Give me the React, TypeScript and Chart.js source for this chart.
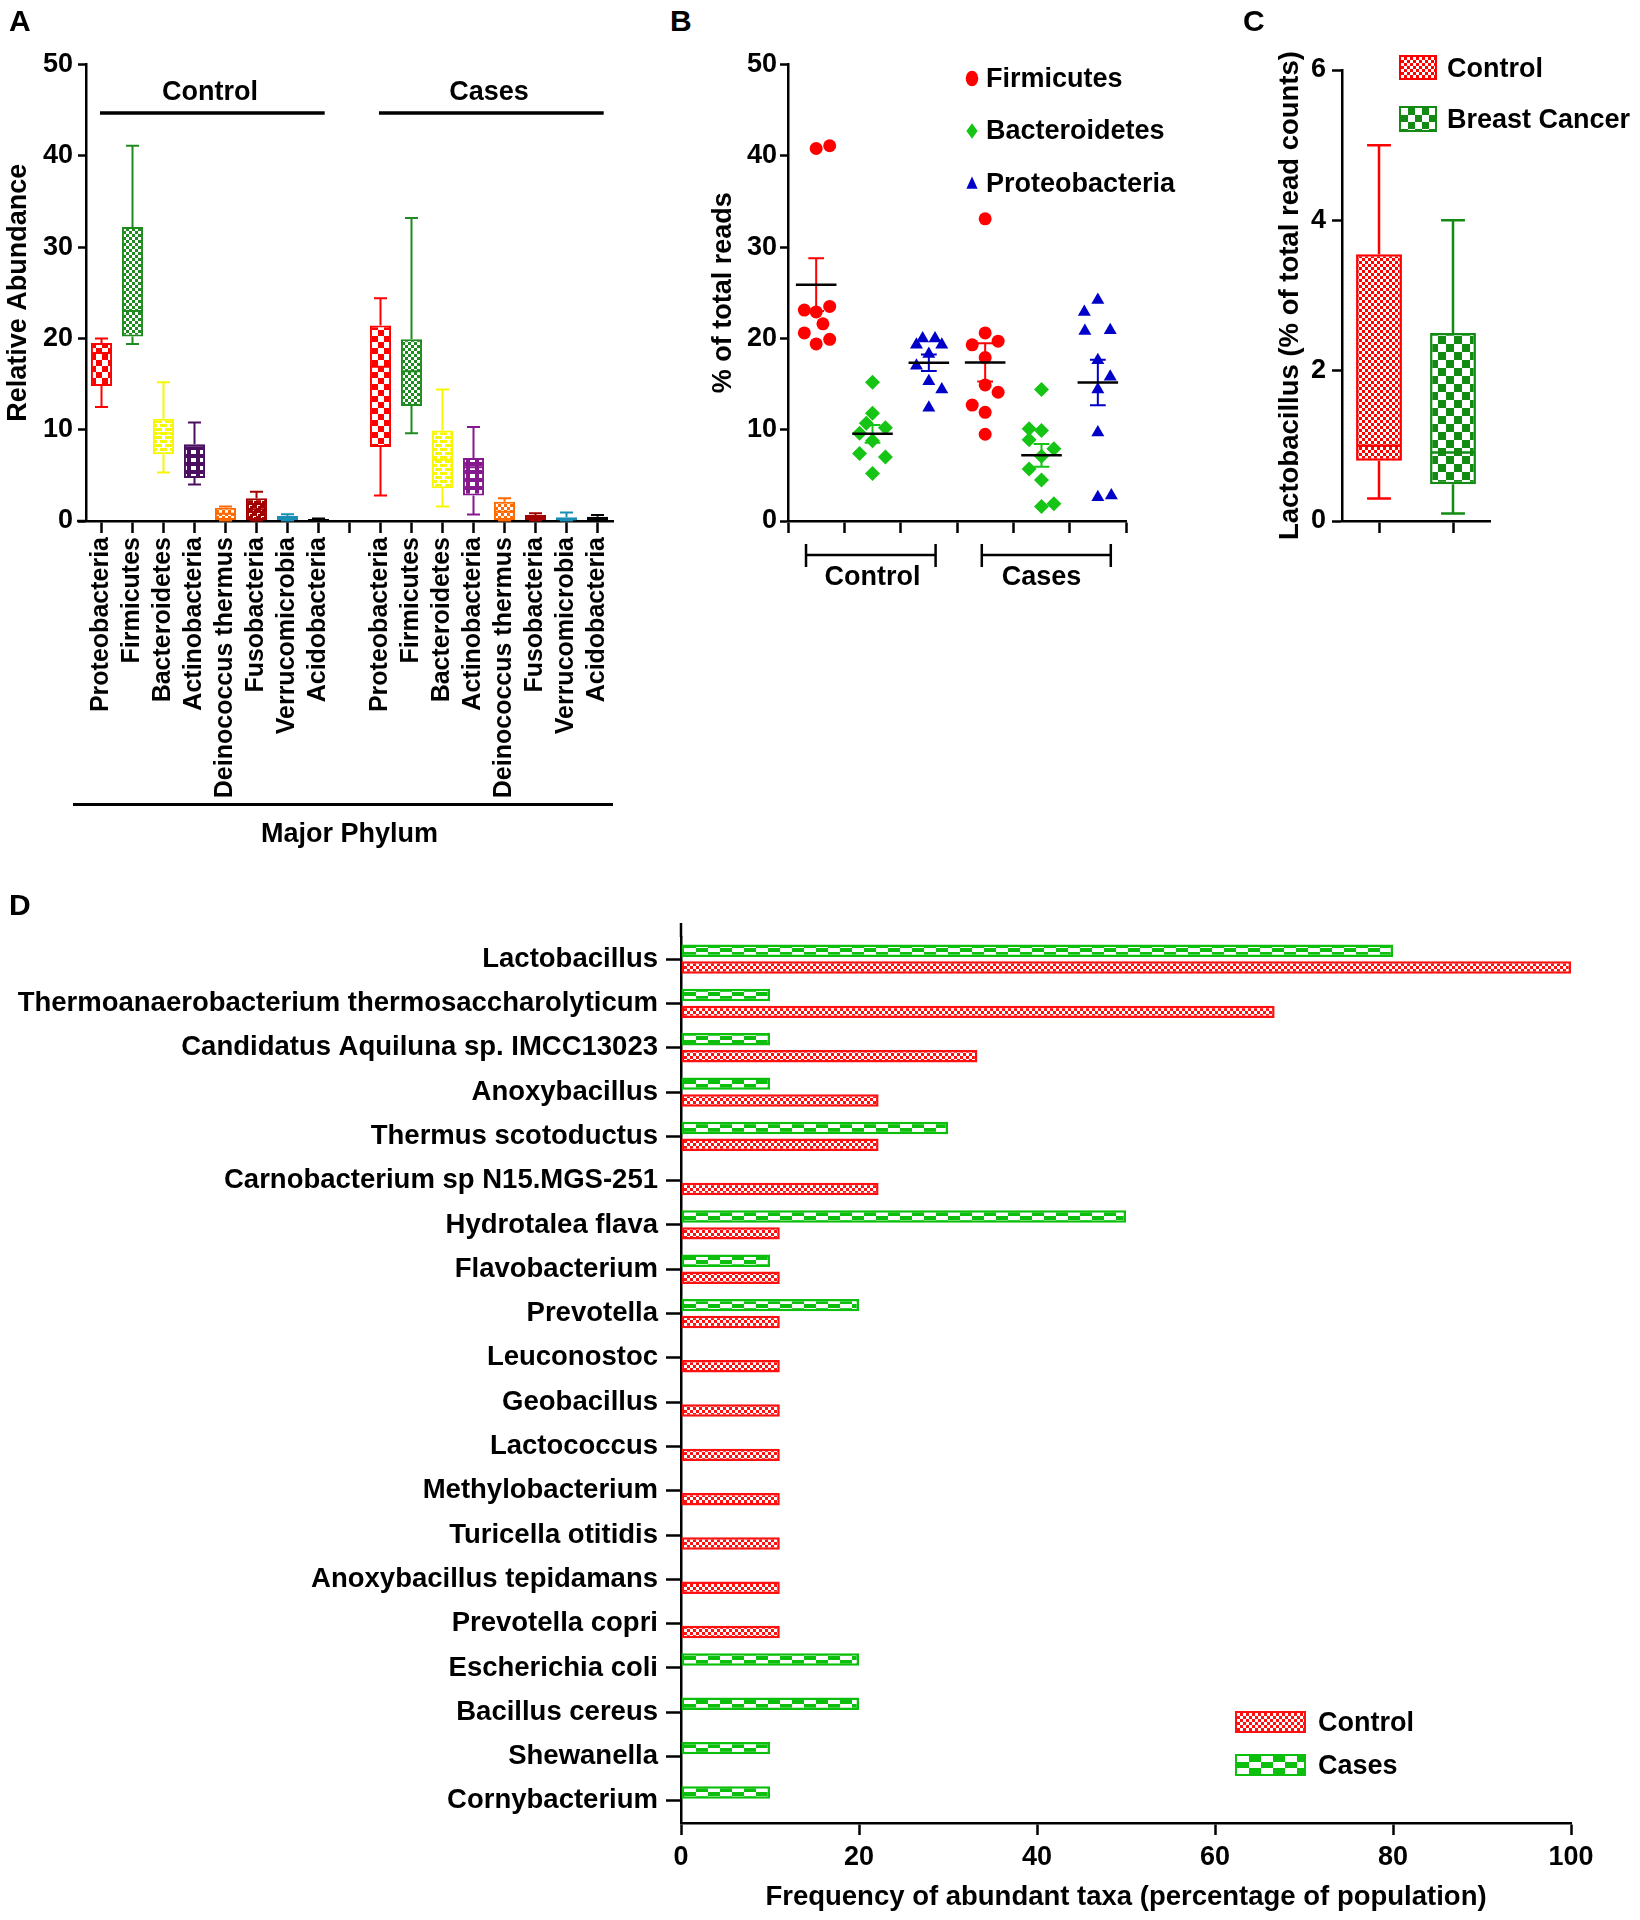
import React, { useEffect, useRef } from 'react';
import { Chart, registerables } from 'chart.js';

Chart.register(...registerables);

const FONT_FAMILY = "'Liberation Sans', Arial, Helvetica, sans-serif";
Chart.defaults.font.family = FONT_FAMILY;
Chart.defaults.font.weight = 'bold';
Chart.defaults.color = '#000';

// ===================== Panel A : major phyla box plots =====================
const phylumNames = ['Proteobacteria', 'Firmicutes', 'Bacteroidetes', 'Actinobacteria', 'Deinococcus thermus', 'Fusobacteria', 'Verrucomicrobia', 'Acidobacteria'];
const controlMin = [12.5, 19.4, 5.3, 4.0, 0.05, 0.05, 0.05, 0.0];
const controlQ1 = [14.8, 20.2, 7.3, 4.7, 0.1, 0.1, 0.1, 0.02];
const controlMedian = [18.4, 23.0, 9.6, 6.3, 0.8, 1.3, 0.3, 0.12];
const controlQ3 = [19.5, 32.2, 11.2, 8.4, 1.45, 2.5, 0.55, 0.22];
const controlMax = [20.0, 41.1, 15.2, 10.8, 1.6, 3.2, 0.75, 0.27];
const casesMin = [2.8, 9.6, 1.6, 0.7, 0.05, 0.05, 0.05, 0.05];
const casesQ1 = [8.1, 12.6, 3.6, 2.8, 0.1, 0.1, 0.1, 0.1];
const casesMedian = [16.9, 16.4, 6.7, 5.9, 1.0, 0.4, 0.2, 0.3];
const casesQ3 = [21.4, 19.9, 9.9, 6.9, 2.1, 0.66, 0.4, 0.47];
const casesMax = [24.4, 33.2, 14.4, 10.3, 2.5, 0.85, 0.93, 0.66];
const controlPhylumColors = ['#ff0000', '#1f8a1f', '#f7f700', '#4b0f60', '#ff6a00', '#a30000', '#1b8fb3', '#000000'];
const casesPhylumColors = ['#ff0000', '#1f8a1f', '#f7f700', '#86198f', '#ff6a00', '#a30000', '#1b8fb3', '#000000'];
const phylumPatternKinds = ['checkerLarge', 'checkerSmall', 'brick', 'windows', 'checkerSmall', 'squiggle', 'dash', 'solid'];
const aGroupNames = ['Control', 'Cases'];
const aYMax = 50;
const aYStep = 10;

// ===================== Panel B : % of total reads (dot plots) =====================
const bSeriesNames = ['Firmicutes', 'Bacteroidetes', 'Proteobacteria'];
const bGroupNames = ['Control', 'Cases'];
const firmicutesControl = [40.8, 41.1, 23.1, 22.9, 23.5, 21.6, 20.6, 19.4, 19.9];
const firmicutesControlJitter = [0, 0.24, -0.21, 0, 0.24, 0.12, -0.21, 0, 0.24];
const bacteroidetesControl = [15.2, 11.8, 10.7, 9.6, 10.2, 8.8, 7.4, 7.0, 5.2];
const bacteroidetesControlJitter = [0, 0, -0.11, -0.23, 0.23, 0, -0.23, 0.23, 0];
const proteobacteriaControl = [19.3, 20.0, 20.0, 19.3, 18.3, 17.0, 15.3, 14.4, 12.4];
const proteobacteriaControlJitter = [-0.22, -0.11, 0.11, 0.23, 0, -0.22, 0, 0.23, 0];
const firmicutesCases = [33.1, 20.6, 19.3, 19.7, 17.9, 14.9, 14.1, 12.7, 11.9, 9.5];
const firmicutesCasesJitter = [0, 0, -0.23, 0.23, 0, 0, 0.23, -0.23, 0, 0];
const bacteroidetesCases = [14.4, 10.1, 9.9, 8.9, 7.9, 7.1, 5.7, 4.5, 1.6, 1.9];
const bacteroidetesCasesJitter = [0, -0.22, 0, -0.22, 0.22, 0, -0.22, 0, 0, 0.22];
const proteobacteriaCases = [22.9, 24.2, 20.8, 20.9, 17.6, 15.8, 14.4, 9.7, 2.6, 2.8];
const proteobacteriaCasesJitter = [-0.24, 0, -0.23, 0.22, 0, 0.22, 0, 0, 0, 0.24];
const bSeriesColors = ['#ff0000', '#16c416', '#0000c8'];
const bSeriesStyles = ['circle', 'rectRot', 'triangle'];
const bYMax = 50;
const bYStep = 10;

// ===================== Panel C : Lactobacillus =====================
const cGroupNames = ['Control', 'Breast Cancer'];
const lactoMin = [0.3, 0.1];
const lactoQ1 = [0.8, 0.49];
const lactoMedian = [1.0, 0.91];
const lactoQ3 = [3.55, 2.5];
const lactoMax = [5.0, 4.0];
const cColors = ['#ff0000', '#138a13'];
const cYMax = 6;
const cYStep = 2;

// ===================== Panel D : frequency of abundant taxa =====================
const taxaNames = [
  'Lactobacillus', 'Thermoanaerobacterium thermosaccharolyticum', 'Candidatus Aquiluna sp. IMCC13023', 'Anoxybacillus',
  'Thermus scotoductus', 'Carnobacterium sp N15.MGS-251', 'Hydrotalea flava', 'Flavobacterium', 'Prevotella',
  'Leuconostoc', 'Geobacillus', 'Lactococcus', 'Methylobacterium', 'Turicella otitidis', 'Anoxybacillus tepidamans',
  'Prevotella copri', 'Escherichia coli', 'Bacillus cereus', 'Shewanella', 'Cornybacterium',
];
const taxaControl = [100, 66.7, 33.3, 22.2, 22.2, 22.2, 11.1, 11.1, 11.1, 11.1, 11.1, 11.1, 11.1, 11.1, 11.1, 11.1, null, null, null, null];
const taxaCases = [80, 10, 10, 10, 30, null, 50, 10, 20, null, null, null, null, null, null, null, 20, 20, 10, 10];
const dXTicks = [0, 20, 40, 60, 80, 100];
const dControlColor = '#ff1010';
const dCasesColor = '#0cbf0c';

// ===================== helpers =====================
function makePattern(kind: string, color: string): CanvasPattern | string {
  if (kind === 'solid') return color;
  const c = document.createElement('canvas');
  let w = 8, h = 8;
  const checker: Record<string, [number, number]> = {
    checkerLarge: [6, 6], checkerSmall: [3, 3], checkerTiny: [3, 3], checkerBig: [8, 8], checkerWide: [12, 4],
  };
  if (checker[kind]) { w = checker[kind][0] * 2; h = checker[kind][1] * 2; }
  else if (kind === 'brick') { w = 10; h = 8; }
  else if (kind === 'windows') { w = 9; h = 8; }
  else if (kind === 'squiggle') { w = 8; h = 8; }
  else if (kind === 'dash') { w = 8; h = 5; }
  c.width = w; c.height = h;
  const g = c.getContext('2d')!;
  if (checker[kind]) {
    const [cw, ch] = checker[kind];
    g.fillStyle = '#ffffff'; g.fillRect(0, 0, w, h);
    g.fillStyle = color; g.fillRect(0, 0, cw, ch); g.fillRect(cw, ch, cw, ch);
  } else if (kind === 'brick') {
    g.fillStyle = '#ffffff'; g.fillRect(0, 0, w, h);
    g.fillStyle = color;
    g.fillRect(0, 0, 7, 3); g.fillRect(5, 4, 5, 3); g.fillRect(0, 4, 2, 3);
  } else if (kind === 'windows') {
    g.fillStyle = color; g.fillRect(0, 0, w, h);
    g.fillStyle = '#ffffff'; g.fillRect(2, 2, 5, 4);
  } else if (kind === 'squiggle') {
    g.fillStyle = color; g.fillRect(0, 0, w, h);
    g.fillStyle = '#ffffff';
    g.fillRect(1, 1, 1, 3); g.fillRect(2, 1, 2, 1); g.fillRect(5, 4, 1, 3); g.fillRect(6, 4, 2, 1);
  } else if (kind === 'dash') {
    g.fillStyle = color; g.fillRect(0, 0, w, h);
    g.fillStyle = '#ffffff'; g.fillRect(2, 2, 4, 1);
  }
  return g.createPattern(c, 'repeat')!;
}

function meanSem(vals: number[]) {
  const n = vals.length;
  const m = vals.reduce((a, b) => a + b, 0) / n;
  const sd = Math.sqrt(vals.reduce((a, b) => a + (b - m) * (b - m), 0) / (n - 1));
  return { mean: m, sem: sd / Math.sqrt(n) };
}

function makeBoxPlugin(mins: (number | null)[], medians: (number | null)[], maxs: (number | null)[], colors: string[], capFrac: number, lw: number) {
  return {
    id: 'boxWhiskers',
    afterDatasetsDraw(chart: any) {
      const meta = chart.getDatasetMeta(0);
      const ys = chart.scales.y;
      const data = chart.data.datasets[0].data;
      const ctx = chart.ctx;
      ctx.save();
      ctx.lineWidth = lw;
      meta.data.forEach((el: any, i: number) => {
        const box = data[i];
        if (!box || mins[i] == null) return;
        const { x, width } = el.getProps(['x', 'width'], true);
        const half = width / 2;
        const cap = (width * capFrac) / 2;
        const pMin = ys.getPixelForValue(mins[i]);
        const pMax = ys.getPixelForValue(maxs[i]);
        const pQ1 = ys.getPixelForValue(box[0]);
        const pQ3 = ys.getPixelForValue(box[1]);
        const pMed = ys.getPixelForValue(medians[i]);
        ctx.strokeStyle = colors[i];
        ctx.beginPath();
        ctx.moveTo(x, pQ3); ctx.lineTo(x, pMax);
        ctx.moveTo(x - cap, pMax); ctx.lineTo(x + cap, pMax);
        ctx.moveTo(x, pQ1); ctx.lineTo(x, pMin);
        ctx.moveTo(x - cap, pMin); ctx.lineTo(x + cap, pMin);
        ctx.moveTo(x - half + 1, pMed); ctx.lineTo(x + half - 1, pMed);
        ctx.stroke();
      });
      ctx.restore();
    },
  };
}

function axisBase(tickLength: number) {
  return {
    grid: { display: true, drawOnChartArea: false, drawTicks: true, tickLength, tickColor: '#000', tickWidth: 2.5, offset: false },
    border: { display: true, color: '#000', width: 2.5 },
  };
}

// extends an axis line a few pixels beyond the plot area (GraphPad-style)
function makeAxisExtendPlugin(dxLeft: number, dyTop: number) {
  return {
    id: 'axisExtend',
    afterDraw(chart: any) {
      const { ctx, chartArea } = chart;
      ctx.save();
      ctx.strokeStyle = '#000'; ctx.lineWidth = 2.5;
      ctx.beginPath();
      if (dxLeft > 0) { ctx.moveTo(chartArea.left - dxLeft, chartArea.bottom); ctx.lineTo(chartArea.left, chartArea.bottom); }
      if (dyTop > 0) { ctx.moveTo(chartArea.left, chartArea.top - dyTop); ctx.lineTo(chartArea.left, chartArea.top); }
      ctx.stroke();
      ctx.restore();
    },
  };
}

function drawMarker(ctx: CanvasRenderingContext2D, style: string, x: number, y: number, r: number, color: string) {
  ctx.fillStyle = color;
  ctx.beginPath();
  if (style === 'circle') {
    ctx.ellipse(x, y, r * 0.9, r * 1.1, 0, 0, Math.PI * 2);
  } else if (style === 'rectRot') {
    ctx.moveTo(x, y - r * 1.1); ctx.lineTo(x + r * 0.8, y); ctx.lineTo(x, y + r * 1.1); ctx.lineTo(x - r * 0.8, y); ctx.closePath();
  } else {
    ctx.moveTo(x, y - r); ctx.lineTo(x + r * 0.8, y + r * 0.75); ctx.lineTo(x - r * 0.8, y + r * 0.75); ctx.closePath();
  }
  ctx.fill();
}

// ===================== chart builders =====================
function buildA(canvas: HTMLCanvasElement) {
  const labels = [...phylumNames, '', ...phylumNames];
  const boxes = [...controlQ1.map((q, i) => [q, controlQ3[i]]), null, ...casesQ1.map((q, i) => [q, casesQ3[i]])];
  const mins = [...controlMin, null, ...casesMin];
  const meds = [...controlMedian, null, ...casesMedian];
  const maxs = [...controlMax, null, ...casesMax];
  const colors = [...controlPhylumColors, '#000', ...casesPhylumColors];
  const patterns = [
    ...controlPhylumColors.map((c, i) => makePattern(phylumPatternKinds[i], c)), '#fff',
    ...casesPhylumColors.map((c, i) => makePattern(phylumPatternKinds[i], c)),
  ];
  const groupPlugin = {
    id: 'aGroups',
    afterDraw(chart: any) {
      const xs = chart.scales.x, ys = chart.scales.y, ctx = chart.ctx;
      const slot = xs.getPixelForValue(1) - xs.getPixelForValue(0);
      const spans = [[0, 7], [9, 16]];
      ctx.save();
      ctx.strokeStyle = '#000'; ctx.lineWidth = 3.5; ctx.fillStyle = '#000';
      ctx.font = `bold 27px ${FONT_FAMILY}`; ctx.textAlign = 'center'; ctx.textBaseline = 'middle';
      spans.forEach(([a, b], gi) => {
        const x1 = xs.getPixelForValue(a) - 0.05 * slot;
        const x2 = xs.getPixelForValue(b) + 0.2 * slot;
        const yl = ys.getPixelForValue(44.7);
        ctx.beginPath(); ctx.moveTo(x1, yl); ctx.lineTo(x2, yl); ctx.stroke();
        ctx.fillText(aGroupNames[gi], (xs.getPixelForValue(a) + xs.getPixelForValue(b)) / 2, ys.getPixelForValue(46.9));
      });
      ctx.restore();
    },
  };
  return new Chart(canvas, {
    type: 'bar',
    data: {
      labels,
      datasets: [{
        data: boxes as any, backgroundColor: patterns as any, borderColor: colors, borderWidth: 2,
        borderSkipped: false, barPercentage: 0.68, categoryPercentage: 1,
      }],
    },
    options: {
      animation: false, responsive: false, maintainAspectRatio: false,
      layout: { padding: { left: 0, right: 27, top: 64.5, bottom: 0 } },
      plugins: { legend: { display: false }, tooltip: { enabled: false } },
      scales: {
        x: {
          ...axisBase(12),
          offset: true,
          ticks: { autoSkip: false, minRotation: 90, maxRotation: 90, font: { size: 25, weight: 'bold' }, color: '#000', padding: 4 },
          title: { display: true, text: 'Major Phylum', font: { size: 27, weight: 'bold' }, color: '#000', padding: { top: 0, bottom: 19 } },
          afterFit: (s: any) => { s.height = 349; },
        },
        y: {
          ...axisBase(8),
          min: 0, max: aYMax,
          ticks: { stepSize: aYStep, font: { size: 27, weight: 'bold' }, color: '#000', padding: 5 },
          title: { display: true, text: 'Relative Abundance', font: { size: 27, weight: 'bold' }, color: '#000', padding: { top: 2, bottom: 0 } },
          afterFit: (s: any) => { s.width = 86; },
        },
      } as any,
    },
    plugins: [makeBoxPlugin(mins, meds, maxs, colors, 0.62, 2), groupPlugin, makeAxisExtendPlugin(9, 0)],
  });
}

function buildB(canvas: HTMLCanvasElement) {
  const controls = [firmicutesControl, bacteroidetesControl, proteobacteriaControl];
  const controlJit = [firmicutesControlJitter, bacteroidetesControlJitter, proteobacteriaControlJitter];
  const cases = [firmicutesCases, bacteroidetesCases, proteobacteriaCases];
  const casesJit = [firmicutesCasesJitter, bacteroidetesCasesJitter, proteobacteriaCasesJitter];
  const nSeries = bSeriesNames.length;
  const datasets = bSeriesNames.map((name, k) => ({
    label: name,
    data: [
      ...controls[k].map((v, i) => ({ x: k + controlJit[k][i], y: v })),
      ...cases[k].map((v, i) => ({ x: nSeries + k + casesJit[k][i], y: v })),
    ],
    pointStyle: bSeriesStyles[k] as any,
    pointRadius: k === 0 ? 6.5 : 7.5,
    pointBackgroundColor: bSeriesColors[k],
    pointBorderColor: bSeriesColors[k],
    pointBorderWidth: 0,
  }));
  const bPlugin = {
    id: 'bExtras',
    afterDatasetsDraw(chart: any) {
      const xs = chart.scales.x, ys = chart.scales.y, ctx = chart.ctx;
      const slot = xs.getPixelForValue(1) - xs.getPixelForValue(0);
      ctx.save();
      bSeriesNames.forEach((_, k) => {
        [controls[k], cases[k]].forEach((vals, g) => {
          const { mean, sem } = meanSem(vals);
          const cx = xs.getPixelForValue(g * nSeries + k);
          const pHi = ys.getPixelForValue(mean + sem), pLo = ys.getPixelForValue(mean - sem), pM = ys.getPixelForValue(mean);
          const cap = 0.14 * slot;
          ctx.strokeStyle = bSeriesColors[k]; ctx.lineWidth = 2;
          ctx.beginPath();
          ctx.moveTo(cx, pHi); ctx.lineTo(cx, pLo);
          ctx.moveTo(cx - cap, pHi); ctx.lineTo(cx + cap, pHi);
          ctx.moveTo(cx - cap, pLo); ctx.lineTo(cx + cap, pLo);
          ctx.stroke();
          ctx.strokeStyle = '#000'; ctx.lineWidth = 2.5;
          ctx.beginPath();
          ctx.moveTo(cx - 0.36 * slot, pM); ctx.lineTo(cx + 0.36 * slot, pM);
          ctx.stroke();
        });
      });
      ctx.restore();
    },
    afterDraw(chart: any) {
      const xs = chart.scales.x, ctx = chart.ctx, area = chart.chartArea;
      ctx.save();
      // group brackets
      const spans = [[-0.18, 2.12], [2.94, 5.23]];
      const yb = area.bottom + 34;
      ctx.strokeStyle = '#000'; ctx.lineWidth = 2.5;
      ctx.font = `bold 27px ${FONT_FAMILY}`; ctx.fillStyle = '#000'; ctx.textAlign = 'center'; ctx.textBaseline = 'middle';
      spans.forEach(([a, b], gi) => {
        const x1 = xs.getPixelForValue(a), x2 = xs.getPixelForValue(b);
        ctx.beginPath();
        ctx.moveTo(x1, yb); ctx.lineTo(x2, yb);
        ctx.moveTo(x1, yb - 11); ctx.lineTo(x1, yb + 12);
        ctx.moveTo(x2, yb - 11); ctx.lineTo(x2, yb + 12);
        ctx.stroke();
        ctx.fillText(bGroupNames[gi], xs.getPixelForValue(gi * nSeries + 1), area.bottom + 57);
      });
      // legend
      ctx.textAlign = 'left';
      bSeriesNames.forEach((name, k) => {
        const lx = area.right - 154, ly = area.top + 14 + 52.5 * k;
        drawMarker(ctx, bSeriesStyles[k], lx, ly, 7, bSeriesColors[k]);
        ctx.fillStyle = '#000';
        ctx.fillText(name, lx + 14, ly + 1);
      });
      ctx.restore();
    },
  };
  return new Chart(canvas, {
    type: 'scatter',
    data: { datasets },
    options: {
      animation: false, responsive: false, maintainAspectRatio: false,
      layout: { padding: { left: 0, right: 74, top: 64.5, bottom: 0 } },
      plugins: { legend: { display: false }, tooltip: { enabled: false } },
      scales: {
        x: {
          ...axisBase(12),
          type: 'linear', min: -0.5, max: 5.5,
          ticks: { stepSize: 1, includeBounds: false, callback: () => '', padding: 0 },
          afterFit: (s: any) => { s.height = 79; },
        },
        y: {
          ...axisBase(8),
          min: 0, max: bYMax,
          ticks: { stepSize: bYStep, font: { size: 27, weight: 'bold' }, color: '#000', padding: 3 },
          title: { display: true, text: '% of total reads', font: { size: 27, weight: 'bold' }, color: '#000', padding: { top: 7, bottom: 0 } },
          afterFit: (s: any) => { s.width = 88; },
        },
      } as any,
    },
    plugins: [bPlugin],
  });
}

function buildC(canvas: HTMLCanvasElement) {
  const patterns = [makePattern('checkerTiny', cColors[0]), makePattern('checkerBig', cColors[1])];
  return new Chart(canvas, {
    type: 'bar',
    data: {
      labels: cGroupNames,
      datasets: [{
        data: lactoQ1.map((q, i) => [q, lactoQ3[i]]) as any,
        backgroundColor: patterns as any, borderColor: cColors, borderWidth: 2.5,
        borderSkipped: false, barPercentage: 0.62, categoryPercentage: 1,
      }],
    },
    options: {
      animation: false, responsive: false, maintainAspectRatio: false,
      layout: { padding: { left: 0, right: 150, top: 70, bottom: 0 } },
      plugins: { legend: { display: false }, tooltip: { enabled: false } },
      scales: {
        x: {
          ...axisBase(12),
          offset: true,
          ticks: { callback: () => '', padding: 0 },
          afterFit: (s: any) => { s.height = 59; },
        },
        y: {
          ...axisBase(10),
          min: 0, max: cYMax,
          ticks: { stepSize: cYStep, font: { size: 27, weight: 'bold' }, color: '#000', padding: 6 },
          title: { display: true, text: 'Lactobacillus (% of total read counts)', font: { size: 27.5, weight: 'bold' }, color: '#000', padding: { top: 44, bottom: 0 } },
          afterFit: (s: any) => { s.width = 112; },
        },
      } as any,
    },
    plugins: [makeBoxPlugin(lactoMin, lactoMedian, lactoMax, cColors, 0.52, 2.5)],
  });
}

function buildD(canvas: HTMLCanvasElement) {
  return new Chart(canvas, {
    type: 'bar',
    data: {
      labels: taxaNames,
      datasets: [
        {
          label: 'Cases', data: taxaCases as any, backgroundColor: makePattern('checkerWide', dCasesColor) as any,
          borderColor: dCasesColor, borderWidth: 2.5, borderSkipped: false, categoryPercentage: 0.76, barPercentage: 0.74,
        },
        {
          label: 'Control', data: taxaControl as any, backgroundColor: makePattern('checkerSmall', dControlColor) as any,
          borderColor: dControlColor, borderWidth: 2.5, borderSkipped: false, categoryPercentage: 0.76, barPercentage: 0.74,
        },
      ],
    },
    options: {
      indexAxis: 'y',
      animation: false, responsive: false, maintainAspectRatio: false,
      layout: { padding: { left: 0, right: 69, top: 37, bottom: 0 } },
      plugins: { legend: { display: false }, tooltip: { enabled: false } },
      scales: {
        x: {
          ...axisBase(12),
          min: dXTicks[0], max: dXTicks[dXTicks.length - 1],
          ticks: { stepSize: dXTicks[1] - dXTicks[0], font: { size: 27, weight: 'bold' }, color: '#000', padding: 6 },
          title: { display: true, text: 'Frequency of abundant taxa (percentage of population)', font: { size: 27.5, weight: 'bold' }, color: '#000', padding: { top: 0, bottom: 6 } },
          afterFit: (s: any) => { s.height = 97; },
        },
        y: {
          ...axisBase(15),
          offset: true,
          ticks: { autoSkip: false, font: { size: 27.5, weight: 'bold' }, color: '#000', padding: 8 },
          afterFit: (s: any) => { s.width = 681; },
        },
      } as any,
    },
    plugins: [makeAxisExtendPlugin(0, 14)],
  });
}

// ===================== components =====================
function ChartBox({ left, top, width, height, build }: { left: number; top: number; width: number; height: number; build: (c: HTMLCanvasElement) => Chart }) {
  const ref = useRef<HTMLCanvasElement>(null);
  useEffect(() => {
    const chart = build(ref.current!);
    return () => chart.destroy();
  }, []);
  return <canvas ref={ref} width={width} height={height} style={{ position: 'absolute', left, top, width, height }} />;
}

function Txt({ left, top, size = 27, children }: { left: number; top: number; size?: number; children: React.ReactNode }) {
  return (
    <div style={{ position: 'absolute', left, top, fontSize: size, fontWeight: 'bold', lineHeight: `${size}px`, whiteSpace: 'nowrap', fontFamily: FONT_FAMILY, color: '#000' }}>
      {children}
    </div>
  );
}

function Swatch({ left, top, width, height, color, cw, ch }: { left: number; top: number; width: number; height: number; color: string; cw: number; ch: number }) {
  return (
    <div style={{
      position: 'absolute', left, top, width, height, boxSizing: 'border-box', border: `2px solid ${color}`,
      background: `repeating-conic-gradient(${color} 0% 25%, #ffffff 0% 50%) 0 0 / ${cw * 2}px ${ch * 2}px`,
    }} />
  );
}

export default function App() {
  return (
    <div style={{ position: 'absolute', left: 0, top: 0, width: 1640, height: 1920, background: '#ffffff', overflow: 'hidden' }}>
      <ChartBox left={0} top={0} width={640} height={870} build={buildA} />
      <div style={{ position: 'absolute', left: 73, top: 803, width: 540, height: 3, background: '#000' }} />
      <ChartBox left={700} top={0} width={500} height={600} build={buildB} />
      <ChartBox left={1230} top={0} width={410} height={580} build={buildC} />
      <ChartBox left={0} top={900} width={1640} height={1020} build={buildD} />

      <Txt left={9} top={6} size={30}>A</Txt>
      <Txt left={670} top={6} size={30}>B</Txt>
      <Txt left={1243} top={6} size={30}>C</Txt>
      <Txt left={9} top={890} size={30}>D</Txt>

      <Swatch left={1399} top={55} width={38} height={25} color={cColors[0]} cw={3} ch={3} />
      <Txt left={1447} top={55}>{cGroupNames[0]}</Txt>
      <Swatch left={1399} top={106} width={38} height={26} color={cColors[1]} cw={7} ch={7} />
      <Txt left={1447} top={106}>{cGroupNames[1]}</Txt>

      <Swatch left={1235} top={1711} width={71} height={22} color={dControlColor} cw={3} ch={3} />
      <Txt left={1318} top={1709}>Control</Txt>
      <Swatch left={1235} top={1754} width={71} height={22} color={dCasesColor} cw={12} ch={6} />
      <Txt left={1318} top={1752}>Cases</Txt>
    </div>
  );
}
